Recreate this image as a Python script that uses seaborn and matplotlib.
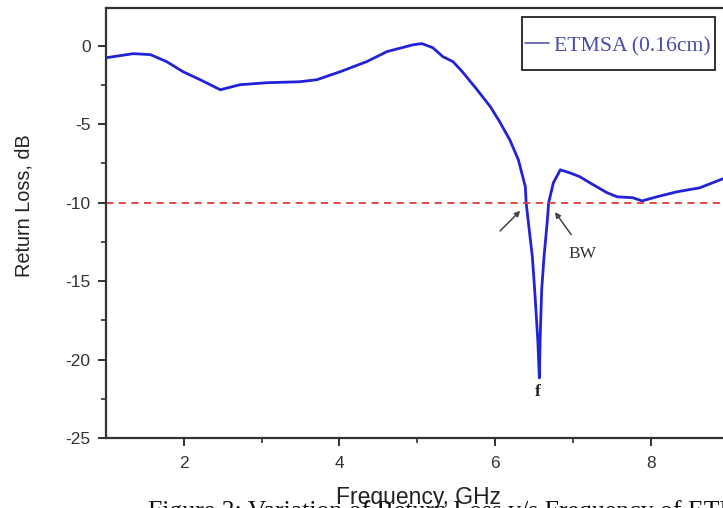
import numpy as np
import pandas as pd
import matplotlib
matplotlib.use("Agg")
import matplotlib.pyplot as plt
from matplotlib.patches import Rectangle
import seaborn as sns

# Data
freq_ghz = [1.00, 1.35, 1.57, 1.78, 1.99, 2.21, 2.47, 2.72, 3.07, 3.49, 3.71,
            4.01, 4.35, 4.61, 4.95, 5.06, 5.20, 5.33, 5.46, 5.58, 5.77, 5.94,
            6.06, 6.19, 6.30, 6.39, 6.40, 6.43, 6.48, 6.51, 6.55, 6.57, 6.58,
            6.60, 6.63, 6.67, 6.69, 6.75, 6.84, 6.96, 7.09, 7.22, 7.44, 7.57,
            7.77, 7.89, 8.08, 8.34, 8.63, 8.93]
return_loss_db = [-0.77, -0.51, -0.57, -1.02, -1.66, -2.17, -2.81, -2.49, -2.36,
                  -2.30, -2.17, -1.66, -1.02, -0.38, 0.06, 0.13, -0.13, -0.70,
                  -1.02, -1.66, -2.81, -3.89, -4.85, -6.00, -7.27, -8.99, -10.0,
                  -11.3, -13.45, -15.56, -18.75, -21.17, -18.75, -15.56, -13.45,
                  -11.29, -10.0, -8.74, -7.91, -8.10, -8.35, -8.74, -9.37, -9.63,
                  -9.69, -9.89, -9.63, -9.31, -9.06, -8.48]
threshold_db = -10
series_label = "ETMSA (0.16cm)"
x_ticks = [2, 4, 6, 8]
y_ticks = [0, -5, -10, -15, -20, -25]

df = pd.DataFrame({"Frequency": freq_ghz, "ReturnLoss": return_loss_db})

sns.set_theme(style="ticks")
plt.rcParams["font.family"] = ["Liberation Sans", "DejaVu Sans"]
plt.rcParams["axes.unicode_minus"] = False

W, H = 723, 508
fig = plt.figure(figsize=(W / 100, H / 100), dpi=100)
ax = fig.add_axes([106 / W, 70 / H, 622.4 / W, 430 / H])

sns.lineplot(data=df, x="Frequency", y="ReturnLoss", ax=ax, color="#2222d8",
             linewidth=2.0, label=series_label, sort=False)
ax.axhline(threshold_db, color="#e23a3a", linestyle=(0, (4, 3)), linewidth=1.3)

ax.set_xlim(1, 9)
ax.set_ylim(-25, 2.4)
ax.set_xticks(x_ticks)
ax.set_yticks(y_ticks)
ax.set_xticks([3, 5, 7], minor=True)
ax.set_yticks([-2.5, -7.5, -12.5, -17.5, -22.5], minor=True)
ax.tick_params(axis="both", which="major", direction="out", length=6, width=1.4,
               colors="#333333", labelsize=12.5, labelcolor="#333333")
ax.tick_params(axis="both", which="minor", direction="out", length=3.5, width=1.2,
               colors="#333333")
ax.tick_params(axis="x", pad=7)
ax.tick_params(axis="y", pad=5)

for s in ["left", "bottom", "top"]:
    ax.spines[s].set_color("#333333")
    ax.spines[s].set_linewidth(1.6)
ax.spines["right"].set_visible(False)

ax.set_xlabel("Frequency, GHz", fontsize=16.5, color="#222222")
ax.set_ylabel("Return Loss, dB", fontsize=14.3, color="#222222")
ax.xaxis.set_label_coords((418 - 106) / 622.4, (438 - 486) / 430)
ax.yaxis.set_label_coords((34 - 106) / 622.4, (438 - 206) / 430)

# annotations
ax.annotate("", xy=(6.35, -10.4), xytext=(6.04, -11.93),
            arrowprops=dict(arrowstyle="-|>", color="#444444", lw=1.1,
                            mutation_scale=8))
ax.annotate("", xy=(6.75, -10.46), xytext=(7.0, -12.18),
            arrowprops=dict(arrowstyle="-|>", color="#444444", lw=1.1,
                            mutation_scale=8))
ax.text(7.13, -13.3, "BW", fontsize=12.5, family="Liberation Serif",
        color="#333333", ha="center", va="center")
ax.text(6.55, -22.1, "f", fontsize=12.5, family="Liberation Serif",
        fontweight="bold", color="#222222", ha="center", va="center")

# legend (frame drawn separately to match the tall, narrow-padded box)
box = Rectangle((522 / W, 1 - 70 / H), 193 / W, 53 / H,
                transform=fig.transFigure, fill=True, facecolor="white",
                edgecolor="#222222", linewidth=1.3, zorder=4, clip_on=False)
ax.add_patch(box)
leg = ax.legend(loc="center right", bbox_to_anchor=((711 - 106) / 622.4, (438 - 46) / 430),
                bbox_transform=ax.transAxes, frameon=False,
                handlelength=1.1, handletextpad=0.25,
                borderpad=0, borderaxespad=0,
                prop={"family": "Liberation Serif", "size": 15.6})
for t in leg.get_texts():
    t.set_color("#4a4aa8")
for l in leg.get_lines():
    l.set_color("#5a5ab0")
    l.set_linewidth(1.2)
leg.set_zorder(6)

fig.text(148 / W, 1 - 500 / H, "Figure 3: Variation of Return Loss v/s Frequency of ETMSA",
         fontsize=18.5, family="Liberation Serif", ha="left", va="top", color="#111111")

fig.savefig("out.png", dpi=100)
